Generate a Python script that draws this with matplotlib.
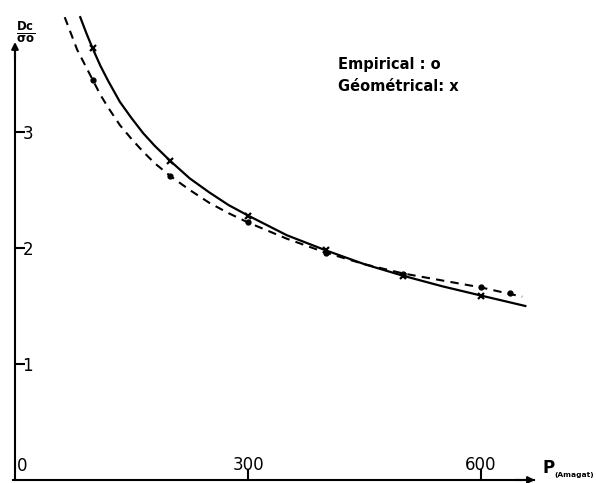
import numpy as np
import matplotlib
matplotlib.use("Agg")
import matplotlib.pyplot as plt

# measured points (pressure in Amagat, Dc/sigma0)
p_geo = [100, 200, 300, 400, 500, 600]
d_geo = [3.72, 2.75, 2.28, 1.98, 1.76, 1.59]

p_emp = [100, 200, 300, 400, 500, 600, 637]
d_emp = [3.45, 2.62, 2.22, 1.96, 1.78, 1.66, 1.61]

# hand drawn curves
p_curve_geo = [84, 92, 100, 110, 120, 135, 150, 165, 180, 200, 225, 250, 275, 300,
               350, 400, 450, 500, 550, 600, 657]
d_curve_geo = [3.99, 3.85, 3.72, 3.57, 3.44, 3.26, 3.12, 2.99, 2.88, 2.75, 2.60, 2.48, 2.37, 2.28,
               2.11, 1.98, 1.86, 1.76, 1.67, 1.59, 1.50]

p_curve_emp = [64, 80, 100, 110, 120, 135, 150, 165, 180, 200, 225, 250, 275, 300,
               350, 400, 450, 500, 550, 600, 653]
d_curve_emp = [3.99, 3.71, 3.45, 3.32, 3.21, 3.06, 2.94, 2.83, 2.73, 2.62, 2.50, 2.39, 2.30, 2.22,
               2.08, 1.96, 1.86, 1.78, 1.72, 1.66, 1.58]

y_ticks = [1, 2, 3]
x_ticks = [300, 600]

fig = plt.figure(figsize=(5.96, 4.83), dpi=100)
ax = fig.add_axes([0, 0, 1, 1])
ax.set_xlim(-19.3, 748)
ax.set_ylim(-0.026, 4.138)

ax.plot(p_curve_geo, d_curve_geo, color="black", lw=1.6)
ax.plot(p_curve_emp, d_curve_emp, color="black", lw=1.5, linestyle=(0, (4, 3)))
ax.plot(p_geo, d_geo, linestyle="none", marker="x", ms=5, mew=1.6, color="black")
ax.plot(p_emp, d_emp, linestyle="none", marker="o", ms=3.5, color="black")

# axes drawn by hand with arrows
for s in ["top", "right"]:
    ax.spines[s].set_visible(False)
ax.spines["left"].set_position(("data", 0))
ax.spines["bottom"].set_position(("data", 0))
ax.spines["left"].set_bounds(0, 3.75)
ax.spines["bottom"].set_bounds(-3, 668)
ax.spines["left"].set_linewidth(1.5)
ax.spines["bottom"].set_linewidth(1.5)
ax.annotate("", xy=(0, 3.80), xytext=(0, 3.6),
            arrowprops=dict(arrowstyle="-|>", color="black", lw=1.5, mutation_scale=10))
ax.annotate("", xy=(673, 0), xytext=(640, 0),
            arrowprops=dict(arrowstyle="-|>", color="black", lw=1.5, mutation_scale=10))

ax.set_yticks(y_ticks)
ax.set_yticklabels([str(v) for v in y_ticks])
ax.set_xticks(x_ticks)
ax.set_xticklabels([str(v) for v in x_ticks])
ax.tick_params(axis="y", direction="in", length=7, width=1.5, pad=-13, labelsize=12)
ax.tick_params(axis="x", direction="in", length=8, width=1.5, pad=-17, labelsize=12)

ax.text(3, 0.04, "0", fontsize=12, ha="left", va="bottom")
ax.text(14, 3.86, r"$\frac{\mathbf{Dc}}{\mathbf{\sigma o}}$", fontsize=12,
        ha="center", va="center")
ax.text(679, 0.03, "P", fontsize=12, ha="left", va="bottom", fontweight="bold")
ax.text(695, 0.02, "(Amagat)", fontsize=5.4, ha="left", va="bottom", fontweight="bold")

ax.text(416, 3.58, "Empirical : o", fontsize=10.5, fontweight="bold", va="center")
ax.text(416, 3.39, "Géométrical: x", fontsize=10.5, fontweight="bold", va="center")

fig.savefig("out.png", dpi=100, facecolor="white")
